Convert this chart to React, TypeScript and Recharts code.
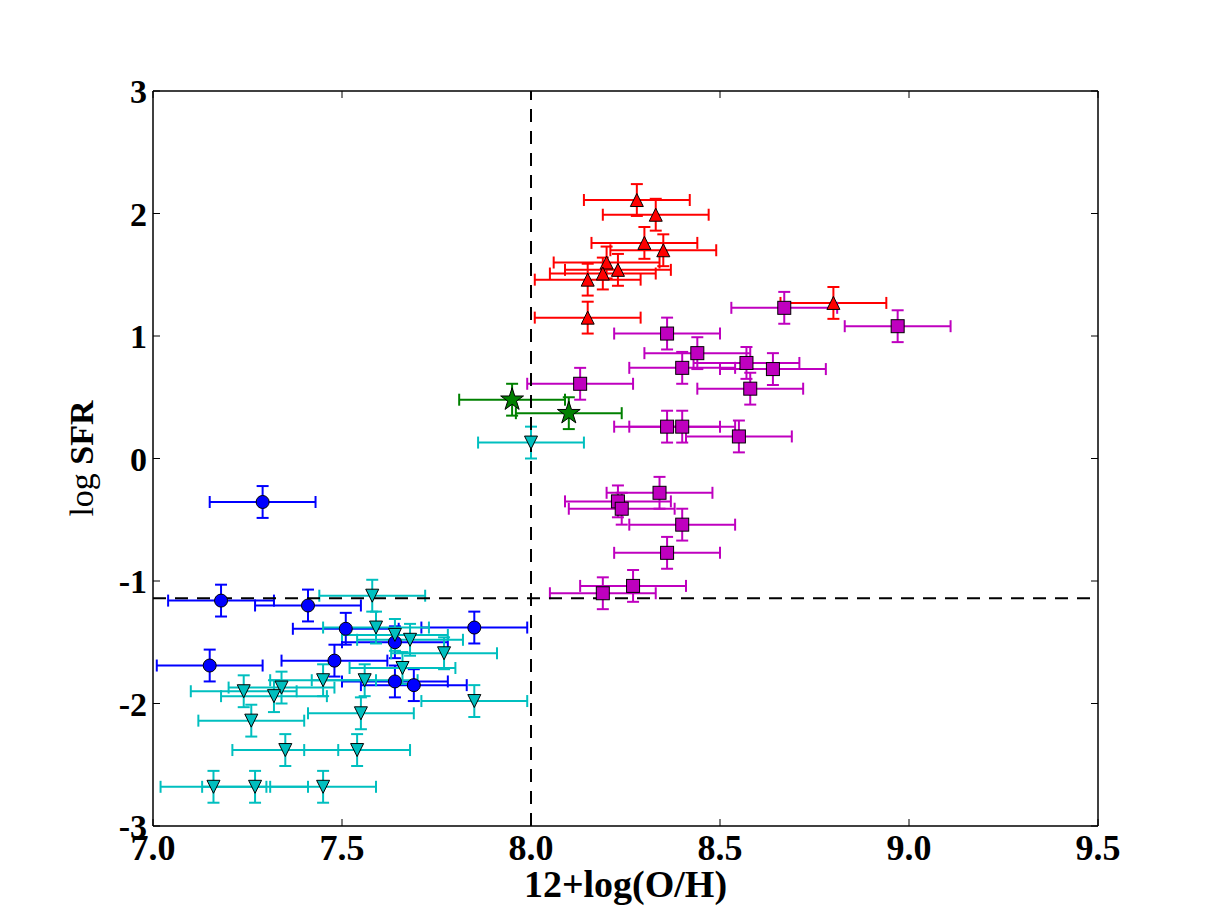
import React from 'react';
import {
  ScatterChart,
  Scatter,
  XAxis,
  YAxis,
  ErrorBar,
  ReferenceLine,
  Label,
} from 'recharts';

// 12+log(O/H) vs log SFR, one pair of arrays per sample
const redOH = [8.28, 8.33, 8.3, 8.35, 8.2, 8.19, 8.23, 8.15, 8.15, 8.8];
const redSFR = [2.11, 1.99, 1.76, 1.7, 1.6, 1.51, 1.54, 1.46, 1.15, 1.27];

const magentaOH = [
  8.67, 8.97, 8.36, 8.44, 8.4, 8.57, 8.64, 8.58, 8.13, 8.36, 8.4, 8.55, 8.34,
  8.23, 8.24, 8.4, 8.36, 8.27, 8.19,
];
const magentaSFR = [
  1.23, 1.08, 1.02, 0.86, 0.74, 0.78, 0.73, 0.57, 0.61, 0.26, 0.26, 0.18,
  -0.28, -0.35, -0.41, -0.54, -0.77, -1.04, -1.1,
];

const greenOH = [7.95, 8.1];
const greenSFR = [0.48, 0.37];

const blueOH = [7.29, 7.18, 7.41, 7.51, 7.85, 7.64, 7.15, 7.48, 7.64, 7.69];
const blueSFR = [-0.355, -1.16, -1.2, -1.39, -1.38, -1.5, -1.69, -1.65, -1.82, -1.85];

const cyanOH = [
  8.0, 7.58, 7.59, 7.64, 7.68, 7.77, 7.66, 7.45, 7.56, 7.34, 7.24, 7.32, 7.85,
  7.55, 7.26, 7.35, 7.54, 7.16, 7.27, 7.45,
];
const cyanSFR = [
  0.13, -1.12, -1.38, -1.44, -1.48, -1.59, -1.71, -1.81, -1.81, -1.87, -1.9,
  -1.94, -1.98, -2.08, -2.14, -2.38, -2.38, -2.68, -2.68, -2.68,
];

const OH_ERR = 0.14;
const SFR_ERR = 0.13;

const xTicks = [7.0, 7.5, 8.0, 8.5, 9.0, 9.5];
const yTicks = [-3, -2, -1, 0, 1, 2, 3];

const OH_CUT = 8.0;
const SFR_CUT = -1.14;

const W = 1203;
const H = 903;
const PLOT_LEFT = 145;
const PLOT_TOP = 83;
const PLOT_W = 945;
const PLOT_H = 735;
const FONT = '"Liberation Serif", "DejaVu Serif", serif';

const toRows = (xs: number[], ys: number[]) =>
  xs.map((x, i) => ({ x, y: ys[i], ex: OH_ERR, ey: SFR_ERR }));

type Kind = 'up' | 'down' | 'square' | 'circle' | 'star';

const makeShape = (kind: Kind, fill: string) => (props: any) => {
  const { cx, cy } = props;
  const s = 6.5;
  const common = { fill, stroke: '#000', strokeWidth: 1 };
  if (kind === 'up') {
    return (
      <polygon
        points={`${cx},${cy - s} ${cx - s},${cy + s} ${cx + s},${cy + s}`}
        {...common}
      />
    );
  }
  if (kind === 'down') {
    return (
      <polygon
        points={`${cx},${cy + s} ${cx - s},${cy - s} ${cx + s},${cy - s}`}
        {...common}
      />
    );
  }
  if (kind === 'square') {
    return <rect x={cx - s} y={cy - s} width={2 * s} height={2 * s} {...common} />;
  }
  if (kind === 'circle') {
    return <circle cx={cx} cy={cy} r={s} {...common} />;
  }
  // five-pointed star
  const R = 12;
  const r = R * 0.382;
  const pts: string[] = [];
  for (let i = 0; i < 10; i++) {
    const rad = i % 2 === 0 ? R : r;
    const a = -Math.PI / 2 + (i * Math.PI) / 5;
    pts.push(`${cx + rad * Math.cos(a)},${cy + rad * Math.sin(a)}`);
  }
  return <polygon points={pts.join(' ')} {...common} />;
};

const XTick = (props: any) => {
  const { x, y, payload } = props;
  return (
    <g>
      <line x1={x} x2={x} y1={y} y2={y - 7} stroke="#000" />
      <line x1={x} x2={x} y1={y - PLOT_H} y2={y - PLOT_H + 7} stroke="#000" />
      <text
        x={x}
        y={y + 34}
        textAnchor="middle"
        fontSize={36}
        fontWeight="bold"
        fontFamily={FONT}
        fill="#000"
      >
        {Number(payload.value).toFixed(1)}
      </text>
    </g>
  );
};

const YTick = (props: any) => {
  const { x, y, payload } = props;
  return (
    <g>
      <line x1={x} x2={x + 7} y1={y} y2={y} stroke="#000" />
      <line x1={x + PLOT_W} x2={x + PLOT_W - 7} y1={y} y2={y} stroke="#000" />
      <text
        x={x - 6}
        y={y + 12}
        textAnchor="end"
        fontSize={34}
        fontWeight="bold"
        fontFamily={FONT}
        fill="#000"
      >
        {payload.value}
      </text>
    </g>
  );
};

const series = [
  { name: 'red', color: '#ff0000', kind: 'up' as Kind, xs: redOH, ys: redSFR },
  { name: 'magenta', color: '#bf00bf', kind: 'square' as Kind, xs: magentaOH, ys: magentaSFR },
  { name: 'green', color: '#008000', kind: 'star' as Kind, xs: greenOH, ys: greenSFR },
  { name: 'blue', color: '#0000ff', kind: 'circle' as Kind, xs: blueOH, ys: blueSFR },
  { name: 'cyan', color: '#00bfbf', kind: 'down' as Kind, xs: cyanOH, ys: cyanSFR },
];

export default function App() {
  return (
    <div style={{ width: W, height: H, background: '#fff' }}>
      <ScatterChart
        width={W}
        height={H}
        margin={{ top: PLOT_TOP, right: W - PLOT_LEFT - PLOT_W, bottom: 25, left: 85 }}
      >
        <XAxis
          dataKey="x"
          type="number"
          domain={[7, 9.5]}
          ticks={xTicks}
          height={60}
          tickSize={0}
          tickMargin={0}
          tickLine={false}
          axisLine={{ stroke: '#000', strokeWidth: 1.5 }}
          tick={<XTick />}
          interval={0}
        >
          <Label
            content={() => (
              <text
                x={PLOT_LEFT + PLOT_W / 2}
                y={889}
                textAnchor="middle"
                fontSize={38}
                fontWeight="bold"
                fontFamily={FONT}
                fill="#000"
              >
                12+log(O/H)
              </text>
            )}
          />
        </XAxis>
        <YAxis
          dataKey="y"
          type="number"
          domain={[-3, 3]}
          ticks={yTicks}
          width={60}
          tickSize={0}
          tickMargin={0}
          tickLine={false}
          axisLine={{ stroke: '#000', strokeWidth: 1.5 }}
          tick={<YTick />}
          interval={0}
        >
          <Label
            content={() => (
              <text
                x={85}
                y={PLOT_TOP + PLOT_H / 2}
                transform={`rotate(-90, 85, ${PLOT_TOP + PLOT_H / 2})`}
                textAnchor="middle"
                fontSize={34}
                fontFamily={FONT}
                fill="#000"
              >
                log <tspan fontWeight="bold">SFR</tspan>
              </text>
            )}
          />
        </YAxis>
        {series.map((s) => (
          <Scatter
            key={s.name}
            data={toRows(s.xs, s.ys)}
            fill={s.color}
            shape={makeShape(s.kind, s.color)}
            isAnimationActive={false}
          >
            <ErrorBar
              dataKey="ex"
              direction="x"
              width={6}
              stroke={s.color}
              strokeWidth={2}
              isAnimationActive={false}
            />
            <ErrorBar
              dataKey="ey"
              direction="y"
              width={6}
              stroke={s.color}
              strokeWidth={2}
              isAnimationActive={false}
            />
          </Scatter>
        ))}
        <ReferenceLine y={3} stroke="#000" strokeWidth={1.5} />
        <ReferenceLine x={9.5} stroke="#000" strokeWidth={1.5} />
        <ReferenceLine x={OH_CUT} stroke="#000" strokeWidth={2} strokeDasharray="13 9" />
        <ReferenceLine y={SFR_CUT} stroke="#000" strokeWidth={2} strokeDasharray="13 9" />
      </ScatterChart>
    </div>
  );
}
